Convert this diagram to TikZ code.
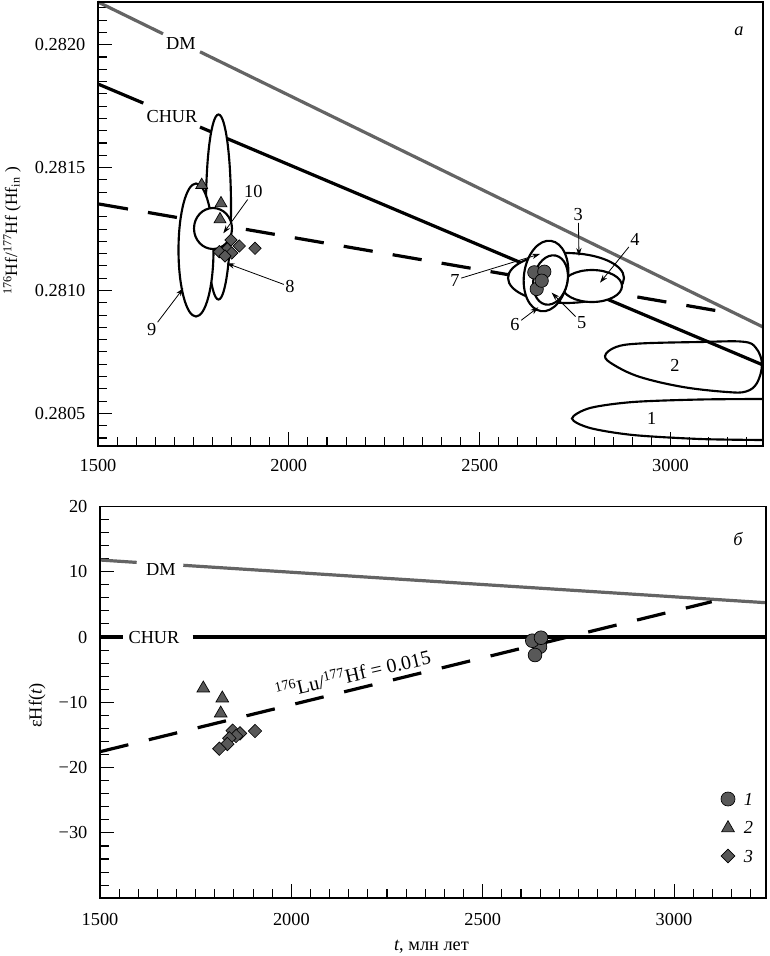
\documentclass[tikz,border=0pt]{standalone}
\usepackage{fontspec}
\setmainfont{Liberation Serif}
\usetikzlibrary{arrows.meta,shapes.geometric}
\definecolor{dmgray}{RGB}{100,100,100}
\definecolor{mkgray}{RGB}{88,88,88}
\begin{document}
\begin{tikzpicture}[x=0.75pt,y=-0.75pt,
  every node/.style={font=\fontsize{13.75}{16}\selectfont, inner sep=1pt},
  lblit/.style={font=\fontsize{13.75}{16}\selectfont\itshape},
  frm/.style={line width=1pt},
  tck/.style={line width=0.8pt},
  dmln/.style={draw=dmgray,line width=2.4pt},
  chln/.style={draw=black,line width=2.4pt},
  luln/.style={draw=black,line width=2.4pt},
  ell/.style={draw=black,line width=1.6pt,fill=white},
  ellnf/.style={draw=black,line width=1.6pt},
  ptr/.style={draw=black,line width=0.6pt,-{Stealth[length=6pt,width=4pt]}},
  mkc/.style={circle,fill=mkgray,draw=black,line width=0.5pt,inner sep=0pt,minimum size=#1},
  mkt/.style={regular polygon,regular polygon sides=3,fill=mkgray,draw=black,line width=0.5pt,inner sep=0pt,minimum size=#1},
  mkd/.style={diamond,aspect=1,fill=mkgray,draw=black,line width=0.5pt,inner sep=0pt,minimum size=#1}
]
\useasboundingbox (0,0) rectangle (769,956);
\fill[white] (0,0) rectangle (769,956);

% ================= TOP PANEL =================
\foreach \k in {0,...,34}{
  \pgfmathsetmacro\xx{98+19.085*\k}
  \pgfmathsetmacro\tl{ifthenelse(mod(\k,10)==0,14,9)}
  \draw[tck] (\xx,446) -- (\xx,{446-\tl});
}
\foreach \j in {-2,...,33}{
  \pgfmathsetmacro\yy{413.4-12.29*\j}
  \pgfmathsetmacro\tl{ifthenelse(mod(\j,10)==0,14,9)}
  \draw[tck] (98,\yy) -- ({98+\tl},\yy);
}
\node (tx1) at (98,465) {1500};
\node (tx2) at (288.8,465) {2000};
\node (tx3) at (479.7,465) {2500};
\node (tx4) at (670.5,465) {3000};
\node[anchor=east] (ty1) at (87,413.4) {0.2805};
\node[anchor=east] (ty2) at (87,290.5) {0.2810};
\node[anchor=east] (ty3) at (87,167.6) {0.2815};
\node[anchor=east] (ty4) at (87,44.7) {0.2820};
\node[rotate=90,font=\fontsize{13}{15}\selectfont] (tylab) at (12,231) {\textsuperscript{176}Hf/\textsuperscript{177}Hf (Hf\textsubscript{in} )};

\draw[dmln] (98,2) -- (163,33.8);
\draw[dmln] (200,51.8) -- (763,327);
\node (tDM) at (181,43.5) {DM};
\draw[chln] (98,84) -- (143.3,103.1);
\draw[chln] (200,127.1) -- (763,365);
\node (tCH) at (172,116.7) {CHUR};
\draw[luln,dash pattern=on 22.05pt off 15.2pt] (99,204) -- (716.7,310.7);

\draw[ellnf] plot[smooth] coordinates {(763,399) (700,399.5) (633,402) (590,408) (572,418.5) (590,428) (633,435) (700,439) (763,440)};
\draw[ellnf] plot[smooth cycle,tension=0.6] coordinates {(605,356) (616,347) (640,343.5) (700,342) (743,341.7) (756,348) (762,364) (757,383) (746,391.5) (727,392) (683,387) (640,377) (614,365)};
\node (e1) at (651.7,418.3) {1};
\node (e2) at (675,365) {2};

\draw[ell] (218.5,207) ellipse [x radius=12.5, y radius=92.5];
\draw[ell] (196,250) ellipse [x radius=17.5, y radius=66.5];
\draw[ell] (213,228.5) ellipse [x radius=19, y radius=20.5];

\draw[ell] (566,278) ellipse [x radius=58, y radius=25];
\draw[ell] (592,286) ellipse [x radius=30, y radius=16];
\draw[ell,rotate around={-8:(546,276)}] (546,276) ellipse [x radius=22, y radius=35.5];
\draw[ell,rotate around={-12:(550.5,280)}] (550.5,280) ellipse [x radius=17, y radius=25];

\foreach \p [count=\i] in {(201.7,185),(221,203.3),(220,219.3)}
  \node[mkt=10.3pt] (tt\i) at \p {};
\foreach \p [count=\i] in {(231,240),(239.3,246),(255,248.3),(227.3,249),(219.3,251.7),(231.7,253),(225,256)}
  \node[mkd=9.5pt] (td\i) at \p {};
\foreach \p [count=\i] in {(534.3,272.3),(544.3,271.7),(536.7,289),(541.7,280.7)}
  \node[mkc=10pt] (tc\i) at \p {};

\coordinate (a10) at (223.3,233.3);
\coordinate (a8) at (226.7,263.3);
\coordinate (a9) at (183.3,288.3);
\coordinate (a3) at (579,256);
\coordinate (a4) at (600,282.7);
\coordinate (a5) at (551.7,292.7);
\coordinate (a6) at (538.3,307.3);
\coordinate (a7) at (540,254);
\node (l10) at (253.3,191.7) {10};
\node (l8) at (290,286.7) {8};
\node (l9) at (151.7,330) {9};
\node (l3) at (578.3,215) {3};
\node (l4) at (635,239.3) {4};
\node (l5) at (581.7,322.7) {5};
\node (l6) at (515,325) {6};
\node (l7) at (455,280) {7};
\foreach \n in {10,8,9,3,4,5,6,7}
  \draw[ptr] (l\n) -- (a\n);

\node[lblit] (pa) at (739,31.7) {а};
\draw[frm] (98,2) rectangle (763,446);

% ================= BOTTOM PANEL =================
\foreach \k in {0,...,34}{
  \pgfmathsetmacro\xx{100+19.135*\k}
  \pgfmathsetmacro\tl{ifthenelse(mod(\k,10)==0,14,9)}
  \draw[tck] (\xx,898) -- (\xx,{898-\tl});
}
\foreach \v in {-38,-36,...,18}{
  \pgfmathsetmacro\yy{637-6.53*\v}
  \pgfmathsetmacro\tl{ifthenelse(mod(\v,10)==0,14,9)}
  \draw[tck] (100,\yy) -- ({100+\tl},\yy);
}
\node (bx1) at (100,919) {1500};
\node (bx2) at (291.4,919) {2000};
\node (bx3) at (482.7,919) {2500};
\node (bx4) at (674,919) {3000};
\node[anchor=east] (by1) at (89,506.4) {20};
\node[anchor=east] (by2) at (89,571.7) {10};
\node[anchor=east] (by3) at (89,637) {0};
\node[anchor=east] (by4) at (89,702.3) {−10};
\node[anchor=east] (by5) at (89,767.6) {−20};
\node[anchor=east] (by6) at (89,832.9) {−30};
\node[rotate=90] (bylab) at (37,705.5) {εHf(\textit{t})};
\node[anchor=base] (bxlab) at (431.5,950) {\textit{t}, млн лет};

\draw[dmln] (100,560) -- (136.7,562.4);
\draw[dmln] (183.3,565.3) -- (766,602.7);
\node (bDM) at (161,570) {DM};
\draw[chln] (100,637) -- (123.3,637);
\draw[chln] (192.7,637) -- (766,637);
\node (bCH) at (154,637.5) {CHUR};
\draw[luln,dash pattern=on 21.9pt off 15.8pt] (100,751.7) -- (711.7,601.7);
\node[rotate=13,anchor=base west,font=\fontsize{15}{17}\selectfont] (bLu) at (276,699.5) {\textsuperscript{176}Lu/\textsuperscript{177}Hf = 0.015};

\foreach \p [count=\i] in {(203.3,688.3),(222.3,698.3),(220.7,713.3)}
  \node[mkt=11pt] (bt\i) at \p {};
\foreach \p [count=\i] in {(232.7,730.7),(240,733.3),(255,731),(236,736),(229.3,738.3),(227.3,744),(219.3,748.7)}
  \node[mkd=10.3pt] (bd\i) at \p {};
\foreach \p [count=\i] in {(540,646.7),(532.3,640.7),(541,637.7),(535,655)}
  \node[mkc=10.3pt] (bc\i) at \p {};

\node[mkc=10.5pt] (lg1) at (728,799) {};
\node[mkt=11pt] (lg2) at (728,828) {};
\node[mkd=10.5pt] (lg3) at (728,856) {};
\node[lblit] (lt1) at (748.5,799.5) {1};
\node[lblit] (lt2) at (748.5,827) {2};
\node[lblit] (lt3) at (748.5,857) {3};

\node[lblit] (pb) at (738,539) {б};
\draw[frm] (100,506.5) rectangle (766,898);
\end{tikzpicture}
\end{document}
